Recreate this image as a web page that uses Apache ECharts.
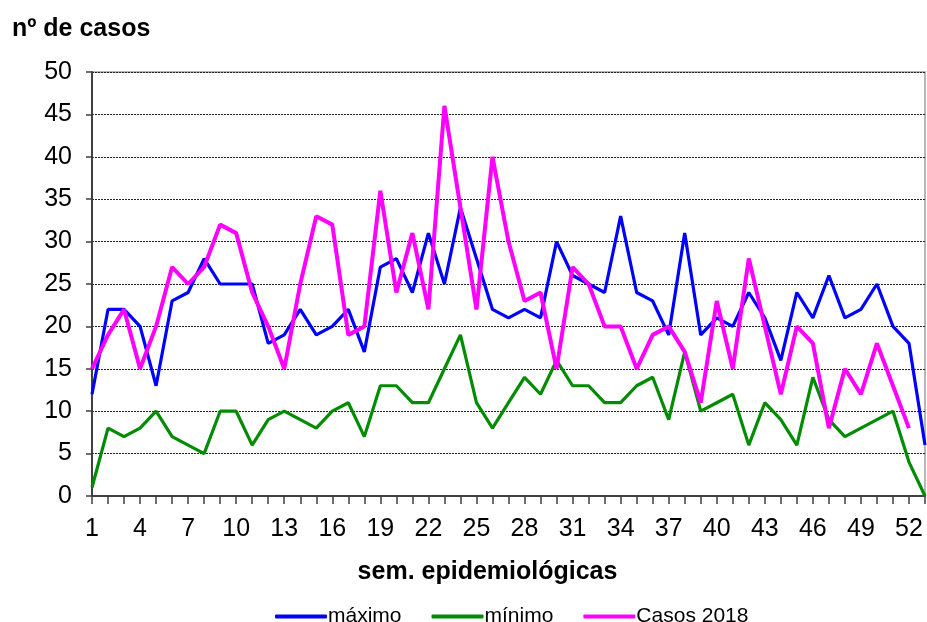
<!DOCTYPE html>
<html>
<head>
<meta charset="utf-8">
<script src="https://cdn.jsdelivr.net/npm/echarts@6/dist/echarts.min.js"></script>
<style>
html, body { margin: 0; padding: 0; background: #fff; }
#main { width: 927px; height: 622px; }
</style>
</head>
<body>
<div id="main"></div>
<script>
var semanas = [];
for (var i = 1; i <= 53; i++) semanas.push(String(i));

var maximo = [12,22,22,20,13,23,24,28,25,25,25,18,19,22,19,20,22,17,27,28,
              24,31,25,34,28,22,21,22,21,30,26,25,24,33,24,23,19,31,19,21,
              20,24,21,16,24,21,26,21,22,25,20,18,6];
var minimo = [1,8,7,8,10,7,6,5,10,10,6,9,10,9,8,10,11,7,13,13,
              11,11,15,19,11,8,11,14,12,16,13,13,11,11,13,14,9,17,10,11,
              12,6,11,9,6,14,9,7,8,9,10,4,0];
var casos2018 = [15,19,22,15,20,27,25,27,32,31,24,20,15,25,33,32,19,20,36,24,
                 31,22,46,34,22,40,30,23,24,15,27,25,20,20,15,19,20,17,11,23,
                 15,28,20,12,20,18,8,15,12,18,13,8,null];

var myChart = echarts.init(document.getElementById('main'));

var fonte = 'Liberation Sans, Arial, sans-serif';

var option = {
    backgroundColor: '#fff',
    animation: false,
    title: {
        text: 'nº de casos',
        left: 7,
        top: 12,
        textStyle: { fontFamily: fonte, fontSize: 25, fontWeight: 'bold', color: '#000' }
    },
    legend: {
        left: 270,
        top: 601,
        icon: 'roundRect',
        itemWidth: 52,
        itemHeight: 4,
        itemGap: 30,
        textStyle: { fontFamily: fonte, fontSize: 21, color: '#000', padding: [0, 0, 0, -4] },
        data: ['máximo', 'mínimo', 'Casos 2018']
    },
    grid: {
        left: 92,
        right: 2,
        top: 72,
        bottom: 126,
        show: true,
        borderColor: '#a0a0a0',
        borderWidth: 1.5
    },
    xAxis: {
        type: 'category',
        data: semanas,
        boundaryGap: false,
        name: 'sem. epidemiológicas',
        nameLocation: 'middle',
        nameGap: 64,
        nameTextStyle: { fontFamily: fonte, fontSize: 25, fontWeight: 'bold', color: '#000', padding: [0, 42, 0, 0] },
        axisLine: { lineStyle: { color: '#404040', width: 2 } },
        axisTick: { interval: 0, length: 8, lineStyle: { color: '#404040', width: 1.5 } },
        axisLabel: { interval: 2, margin: 21, fontFamily: fonte, fontSize: 25, color: '#000' },
        splitLine: { show: false }
    },
    yAxis: {
        type: 'value',
        min: 0,
        max: 50,
        interval: 5,
        axisLine: { show: true, lineStyle: { color: '#404040', width: 2 } },
        axisTick: { show: true, length: 6, lineStyle: { color: '#404040', width: 1.5 } },
        axisLabel: { margin: 20, fontFamily: fonte, fontSize: 25, color: '#000' },
        splitLine: { lineStyle: { color: '#222', type: [2, 1], width: 1 } }
    },
    series: [
        {
            name: 'máximo',
            type: 'line',
            data: maximo,
            symbol: 'none',
            color: '#0000ff',
            lineStyle: { width: 3.2 },
            z: 3
        },
        {
            name: 'mínimo',
            type: 'line',
            data: minimo,
            symbol: 'none',
            color: '#008c00',
            lineStyle: { width: 3.2 },
            z: 2
        },
        {
            name: 'Casos 2018',
            type: 'line',
            data: casos2018,
            symbol: 'none',
            color: '#ff00ff',
            lineStyle: { width: 4 },
            z: 4
        }
    ]
};
myChart.setOption(option);
</script>
</body>
</html>
